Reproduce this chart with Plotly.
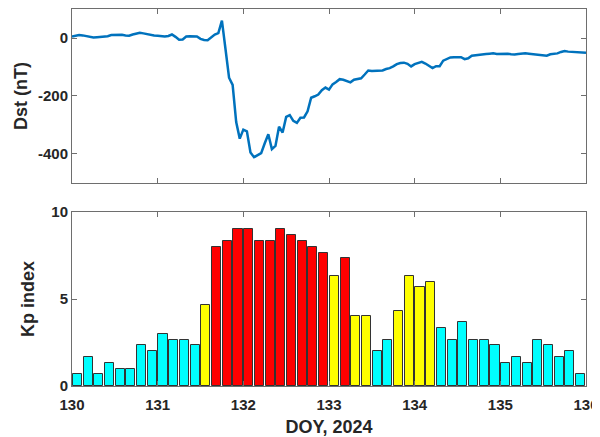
import plotly.graph_objects as go
from plotly.subplots import make_subplots

# Hourly Dst (nT), DOY 130.0 to 136.0
dst = [5, 8, 10, 9, 6, 4, 2, 3, 4, 6, 6, 10, 11, 12, 11, 9, 8, 12, 15, 18, 16, 13, 11, 9,
       8, 6, 5, 7, 12, 4, -6, -5, 5, 6, 6, 5, -3, -7, -8, 2, 12, 17, 60, -38, -137, -162, -290, -347,
       -316, -322, -395, -411, -403, -397, -363, -332, -383, -372, -306, -326, -272, -266, -286, -293,
       -275, -274, -253, -206, -201, -195, -180, -171, -178, -160, -152, -142, -144, -149, -153, -144,
       -142, -139, -126, -112, -114, -114, -113, -112, -107, -104, -98, -90, -86, -85, -89, -98,
       -90, -85, -82, -88, -96, -104, -97, -97, -78, -72, -67, -66, -67, -66, -73, -70,
       -61, -59, -58, -57, -55, -54, -53, -55, -55, -53, -54, -56, -57, -55, -53, -53,
       -54, -55, -58, -59, -59, -61, -56, -55, -53, -48, -45, -47, -48, -48, -48, -49, -51]

# 3-hourly Kp index
kp = [0.67, 1.67, 0.67, 1.33, 1.0, 1.0, 2.33, 2.0,
      3.0, 2.67, 2.67, 2.33, 4.67, 8.0, 8.33, 9.0,
      9.0, 8.33, 8.33, 9.0, 8.67, 8.33, 8.0, 7.67,
      6.33, 7.33, 4.0, 4.0, 2.0, 2.67, 4.33, 6.33,
      5.67, 6.0, 3.33, 2.67, 3.67, 2.67, 2.67, 2.33,
      1.33, 1.67, 1.33, 2.67, 2.33, 1.67, 2.0, 0.67]

x_ticks = [130, 131, 132, 133, 134, 135, 136]
dst_ticks = [-400, -200, 0]
kp_ticks = [0, 5, 10]
start_doy = 130

t_dst = [start_doy + i / 24 for i in range(len(dst))]
t_kp = [start_doy + (i + 0.5) / 8 for i in range(len(kp))]


def kp_color(v):
    if v >= 7:
        return "#FF0000"
    if v >= 4:
        return "#FFFF00"
    return "#00FFFF"


colors = [kp_color(v) for v in kp]

fig = make_subplots(rows=2, cols=1, vertical_spacing=0.077)

fig.add_trace(go.Scatter(x=t_dst, y=dst, mode="lines",
                         line=dict(color="#0072BD", width=2.5),
                         showlegend=False), row=1, col=1)

fig.add_trace(go.Bar(x=t_kp, y=kp, width=0.125 * 0.85,
                     marker=dict(color=colors, line=dict(color="#333333", width=1)),
                     showlegend=False), row=2, col=1)

FONT = "Liberation Sans"
axis_common = dict(showline=True, linecolor="#6e6e6e", linewidth=1, mirror="ticks",
                   ticks="inside", ticklen=5, tickcolor="#6e6e6e", showgrid=False,
                   zeroline=False, automargin=False,
                   tickfont=dict(family=FONT, size=15, color="#262626", weight="bold"))
title_font = dict(family=FONT, size=18, color="#262626", weight="bold")

fig.update_xaxes(range=[130, 136], tickvals=x_ticks, **axis_common)
fig.update_xaxes(showticklabels=False, row=1, col=1)
fig.update_xaxes(ticktext=[str(v) for v in x_ticks], ticklabelstandoff=5,
                 title=dict(text="DOY, 2024", standoff=9, font=title_font),
                 row=2, col=1)

fig.update_yaxes(range=[-500, 100], tickvals=dst_ticks,
                 ticktext=[str(v) for v in dst_ticks], **axis_common, row=1, col=1)
fig.update_yaxes(title=dict(text="Dst (nT)", standoff=5, font=title_font), row=1, col=1)
fig.update_yaxes(range=[0, 10], tickvals=kp_ticks,
                 ticktext=[str(v) for v in kp_ticks], **axis_common, row=2, col=1)
fig.update_yaxes(title=dict(text="Kp index", standoff=12, font=title_font), row=2, col=1)

# page body adds an 8px offset; size the figure so the visible window matches
fig.update_layout(
    width=600, height=429,
    margin=dict(l=64, r=22, t=1, b=51),
    plot_bgcolor="white", paper_bgcolor="white",
    bargap=0,
)
fig.layout.yaxis.domain = [0.5385, 1.0]
fig.layout.yaxis2.domain = [0.0, 0.4615]

fig.write_html("out.html")
